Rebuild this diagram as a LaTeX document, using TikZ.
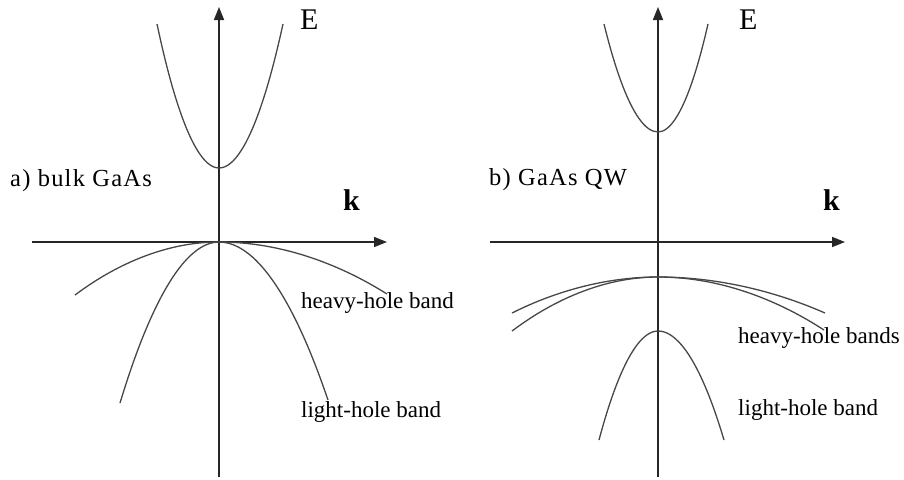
\documentclass[tikz,border=0pt]{standalone}
\usepackage{fontspec}
\setmainfont{Liberation Serif}
\newfontfamily\widefont[LetterSpace=5]{Liberation Serif}
\usetikzlibrary{arrows.meta}

\begin{document}
\begin{tikzpicture}[
  x=1pt, y=-1pt,
  axis/.style={line width=1.6pt, black!85, -{Triangle[length=13pt,width=10pt]}},
  band/.style={line width=1.3pt, black!72},
  lbl/.style={anchor=base west, inner sep=0pt, font=\fontsize{23}{27}\selectfont},
  panel/.style={lbl, font=\widefont\fontsize{24.5}{28}\selectfont},
  axlbl/.style={anchor=base west, inner sep=0pt, font=\fontsize{30}{34}\selectfont},
]
\useasboundingbox (0,0) rectangle (904,479);

% ---- a) bulk GaAs ----
\coordinate (aBot) at (219,477);
\coordinate (aTop) at (219,7);
\coordinate (aLft) at (32,242);
\coordinate (aRgt) at (387,242);
\draw[axis] (aBot) -- (aTop);
\draw[axis] (aLft) -- (aRgt);

\draw[band] (157,24) parabola bend (219,168) (283,24);   % conduction band
\draw[band] (75,295) parabola bend (219,242) (387,294);  % heavy hole
\draw[band] (120,403) parabola bend (219,242) (328,400); % light hole

\node[axlbl] (aE) at (300,29) {E};
\node[axlbl] (ak) at (343,210) {\textbf{k}};
\node[panel] (aName) at (10,186) {a) bulk GaAs};
\node[lbl] (aHH) at (301,308) {heavy-hole band};
\node[lbl] (aLH) at (301,417) {light-hole band};

% ---- b) GaAs QW ----
\coordinate (bBot) at (658,477);
\coordinate (bTop) at (658,7);
\coordinate (bLft) at (490,242);
\coordinate (bRgt) at (845,242);
\draw[axis] (bBot) -- (bTop);
\draw[axis] (bLft) -- (bRgt);

\draw[band] (604,24) parabola bend (658,132) (708,24);
\draw[band] (512,313) parabola bend (658,277) (825,313);
\draw[band] (512,331) parabola bend (658,277) (824,330);
\draw[band] (599,440) parabola bend (658,331) (724,440);

\node[axlbl] (bE) at (739,29) {E};
\node[axlbl] (bk) at (823,210) {\textbf{k}};
\node[panel] (bName) at (489,185) {b) GaAs QW};
\node[lbl] (bHH) at (738,343) {heavy-hole bands};
\node[lbl] (bLH) at (738,415) {light-hole band};
\end{tikzpicture}
\end{document}
